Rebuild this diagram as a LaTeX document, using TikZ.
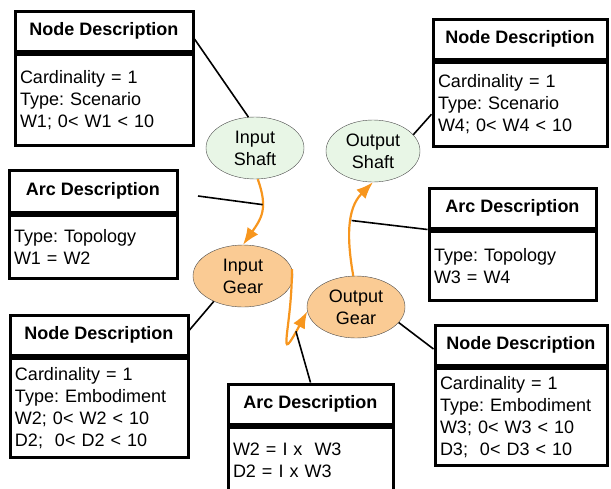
\documentclass[tikz,border=0pt]{standalone}
\usepackage{fontspec}
\setmainfont{Liberation Sans}
\usetikzlibrary{positioning,shapes.geometric,arrows.meta}
\definecolor{shaftgreen}{RGB}{232,246,230}
\definecolor{gearorange}{RGB}{250,203,148}
\definecolor{floworange}{RGB}{247,150,30}
\frenchspacing
\begin{document}
\begin{tikzpicture}[x=1pt, y=-1pt, font=\fontsize{18}{22}\selectfont,
  hdr/.style={draw, line width=3pt, font=\fontsize{18}{22}\selectfont\bfseries, minimum height=40pt, anchor=north west, inner sep=0pt},
  bdy/.style={draw, line width=3pt, align=left, inner xsep=5pt, inner ysep=0pt},
  part/.style={draw=black!70, ellipse, minimum width=98pt, minimum height=62pt, inner sep=0pt, align=center},
  flow/.style={draw=floworange, line width=2.2pt, -{Latex[length=17pt,width=13pt]}},
  link/.style={line width=1.6pt}]
\useasboundingbox (0,0) rectangle (611,488);
\clip (0,0) rectangle (611,488);

\node[hdr, minimum width=178pt] (nh1) at (13.5,9.5) {Node Description};
\node[bdy, text width=168pt, minimum height=91.5pt, below=0pt of nh1] (nb1) {Cardinality = 1\\Type: Scenario\\W1; 0< W1 < 10};

\node[hdr, minimum width=174pt] (nh2) at (431.5,17.5) {Node Description};
\node[bdy, text width=164pt, minimum height=84.5pt, below=0pt of nh2] (nb2) {Cardinality = 1\\Type: Scenario\\W4; 0< W4 < 10};

\node[hdr, minimum width=168pt, minimum height=42.5pt] (ah3) at (7.5,168.5) {Arc Description};
\node[bdy, text width=158pt, minimum height=62.5pt, below=0pt of ah3] (ab3) {Type: Topology\\W1 = W2};

\node[hdr, minimum width=167pt] (ah4) at (427.5,186.5) {Arc Description};
\node[bdy, text width=157pt, minimum height=69.5pt, below=0pt of ah4] (ab4) {Type: Topology\\W3 = W4};

\node[hdr, minimum width=178pt] (nh5) at (8.5,313.5) {Node Description};
\node[bdy, text width=168pt, minimum height=99.5pt, below=0pt of nh5] (nb5) {Cardinality = 1\\Type: Embodiment\\W2; 0< W2 < 10\\D2;\ \ 0< D2 < 10};

\node[hdr, minimum width=165pt] (ah6) at (226.5,382.5) {Arc Description};
\node[bdy, text width=155pt, minimum height=67pt, below=0pt of ah6] (ab6) {W2 = I x\ \ W3\\D2 = I x W3};

\node[hdr, minimum width=172pt] (nh7) at (433.5,323.5) {Node Description};
\node[bdy, text width=162pt, minimum height=97.5pt, below=0pt of nh7] (nb7) {Cardinality = 1\\Type: Embodiment\\W3; 0< W3 < 10\\D3;\ \ 0< D3 < 10};

\node[part, fill=shaftgreen] (inshaft) at (255,148) {Input\\Shaft};
\node[part, fill=shaftgreen, minimum width=94pt] (outshaft) at (373,151) {Output\\Shaft};
\node[part, fill=gearorange, minimum width=100pt] (ingear) at (243,276) {Input\\Gear};
\node[part, fill=gearorange] (outgear) at (356,307) {Output\\Gear};

\draw[flow] (inshaft.-85) to[out=-70, in=55, looseness=1.2] coordinate[pos=0.35] (w12) (ingear.north);
\draw[flow] (ingear.8) .. controls +(0,60) and +(-32,59) .. (outgear.185) coordinate[pos=0.85] (w23);
\draw[flow] (outgear.95) to[out=100, in=-135] coordinate[pos=0.55] (w34) (outshaft.south);

\coordinate (a3tail) at (198,196);
\draw[link] ([yshift=-8pt]nh1.east) -- (inshaft.102);
\draw[link] ([yshift=-10pt]nb2.west) -- (outshaft.22);
\draw[link] (a3tail) -- (w12);
\draw[link] (w34) -- (ah4.south west);
\draw[link] ([yshift=5pt]nh5.east) -- (ingear.221);
\draw[link] (ah6.north) -- (w23);
\draw[link] (outgear.-20) -- ([yshift=-4pt]nh7.west);
\end{tikzpicture}
\end{document}
